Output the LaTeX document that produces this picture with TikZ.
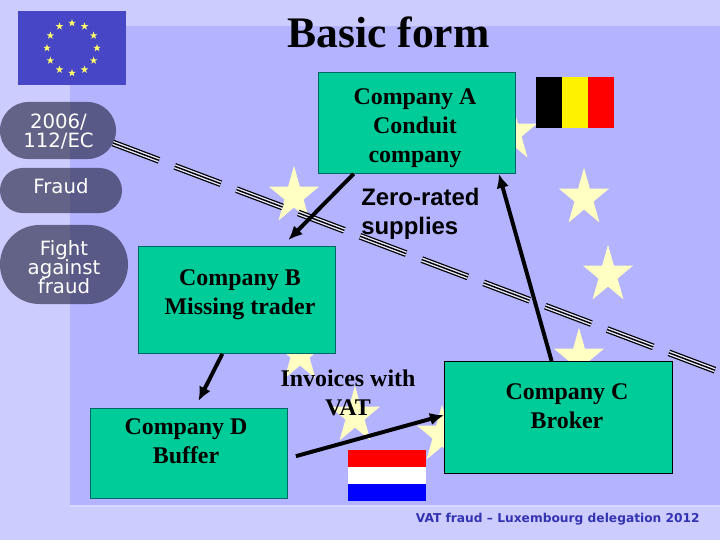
\documentclass[tikz,border=0pt]{standalone}
\usepackage{xcolor}
\usepackage{fontspec}
\setmainfont{Liberation Serif}
\newfontfamily\sidefont{DejaVu Sans}
\newfontfamily\zerofont{Liberation Sans}
\usetikzlibrary{calc}
\usetikzlibrary{arrows.meta}
\usetikzlibrary{shapes.geometric}
\usetikzlibrary{shapes.misc}
\definecolor{pagebg}{HTML}{CCCCFF}
\definecolor{panelbg}{HTML}{B3B3FF}
\definecolor{boxgreen}{HTML}{00CC99}
\definecolor{boxedge}{HTML}{006666}
\definecolor{flagblue}{HTML}{4646C6}
\definecolor{flagyellow}{HTML}{FFFF66}
\definecolor{starpale}{HTML}{FFFFC4}
\definecolor{pillfill}{HTML}{1E1E37}
\definecolor{footblue}{HTML}{3333B2}
\newcommand{\pillfont}{\fontsize{14}{13.5}\selectfont\sidefont\setlength{\lineskiplimit}{-20pt}\setlength{\lineskip}{0pt}}
\tikzset{>=latex}
\tikzstyle{bigstar} = [draw=none, fill=starpale, star, star points=5, star point ratio=2.618, inner sep=0, minimum size=1.315cm, transform shape, yscale=1.15]
\tikzstyle{flagstar} = [draw=none, fill=flagyellow, star, star points=5, star point ratio=2.618, inner sep=0, minimum size=0.2cm]
\tikzstyle{company} = [draw=boxedge, fill=boxgreen, line width=0.6pt, inner sep=0, anchor=north west]
\tikzstyle{boxlabel} = [draw=none, inner sep=0, align=center, font=\fontsize{17}{20.6}\selectfont\bfseries]
\tikzstyle{pill} = [draw=none, fill=pillfill, fill opacity=0.6, rounded rectangle, inner sep=0]
\tikzstyle{pilllabel} = [draw=none, text=white, inner sep=0, align=center, font=\pillfont]
\tikzstyle{flow} = [-{Latex[length=10pt,width=9pt]}, line width=2.8pt, draw=black]
\tikzstyle{lawdash} = [dash pattern=on 1.23cm off 0.42cm]

\begin{document}
\begin{tikzpicture}[x=0.025cm, y=-0.025cm]
\useasboundingbox (0, 0) rectangle (720, 540);
\fill [pagebg] (0, 0) rectangle (720, 540);
\fill [panelbg] (70, 26) rectangle (720, 505);
\fill [white, opacity=0.25] (70, 505) rectangle (720, 507);

% eu flag
\fill [flagblue] (18, 11) rectangle (126, 85);
\coordinate (ring) at (72, 48);
\foreach \a in {0, 30, ..., 330}
  \node [flagstar] (ring\a) at ($(ring) + (\a:25)$) {};

% stars of the big ring
\node [bigstar] (star1) at (294, 196) {};
\node [bigstar] (star2) at (512, 133) {};
\node [bigstar] (star3) at (584, 198) {};
\node [bigstar] (star4) at (608, 275) {};
\node [bigstar] (star5) at (579, 358) {};
\node [bigstar] (star6) at (355, 416) {};
\node [bigstar] (star7) at (442, 435) {};
\node [bigstar] (star8) at (300, 354) {};

% side menu
\node [pill, minimum width=2.9cm, minimum height=1.425cm] (directive) at (58, 130.5) {};
\node [pill, minimum width=3.05cm, minimum height=1.125cm] (fraud) at (61, 190.5) {};
\node [pill, minimum width=3.2cm, minimum height=1.975cm] (fight) at (64, 264.5) {};
\node [pilllabel] (directivelabel) at (58.5, 131.5) {2006/\\112/EC};
\node [pilllabel] (fraudlabel) at (61, 186) {Fraud};
\node [pilllabel] (fightlabel) at (64, 267) {Fight\\against\\fraud};

% border line
\coordinate (lawa) at (113, 143);
\coordinate (lawb) at (725, 374);
\draw [lawdash, line width=4.8pt, draw=black] (lawa) -- (lawb);
\draw [lawdash, line width=3.0pt, draw=white!70!panelbg] (lawa) -- (lawb);
\draw [lawdash, line width=1.0pt, draw=black] (lawa) -- (lawb);

% flags
\fill [black] (536, 77) rectangle (562, 128);
\fill [yellow] (562, 77) rectangle (588, 128);
\fill [red] (588, 77) rectangle (614, 128);
\fill [red] (348, 450) rectangle (426, 467);
\fill [white] (348, 467) rectangle (426, 484);
\fill [blue] (348, 484) rectangle (426, 501);

% companies
\node [company, minimum width=4.925cm, minimum height=2.525cm] (A) at (318, 72) {};
\node [company, minimum width=4.925cm, minimum height=2.675cm] (B) at (138, 246) {};
\node [company, minimum width=5.7cm, minimum height=2.8cm, draw=black] (C) at (444, 361) {};
\node [company, minimum width=4.925cm, minimum height=2.25cm] (D) at (90, 408) {};
\node [boxlabel] (Alabel) at (415, 128) {Company A\\Conduit\\company};
\node [boxlabel] (Blabel) at (240, 294.5) {Company B\\Missing trader};
\node [boxlabel] (Clabel) at (567, 406) {Company C\\Broker};
\node [boxlabel] (Dlabel) at (186, 441.5) {Company D\\Buffer};

% flows
\draw [flow] ($(A.south west)!0.18!(A.south east)$) to ($(B.north west)!0.76!(B.north east) + (0, -6)$);
\draw [flow] ($(B.south west)!0.426!(B.south east)$) to ($(D.north west)!0.548!(D.north east) + (0, -7)$);
\draw [flow] ($(D.north east)!0.53!(D.south east) + (8, 0)$) to ($(C.north west)!0.48!(C.south west)$);
\draw [flow] ($(C.north west)!0.47!(C.north east)$) to ($(A.south west)!0.914!(A.south east)$);

% texts
\node [draw=none, inner sep=0, font=\fontsize{31}{36}\selectfont\bfseries] (title) at (388.5, 32) {Basic form};
\node [draw=none, inner sep=0, align=left, anchor=west, font=\fontsize{17}{20.6}\selectfont\zerofont\bfseries] (zero) at (361, 214) {Zero-rated\\supplies};
\node [boxlabel] (invoices) at (348, 393) {Invoices with\\VAT};
\node [draw=none, inner sep=0, text=footblue, anchor=east, font=\fontsize{8.7}{11}\selectfont\sidefont\bfseries] (footer) at (700, 519.5) {VAT fraud – Luxembourg delegation 2012};
\end{tikzpicture}
\end{document}
